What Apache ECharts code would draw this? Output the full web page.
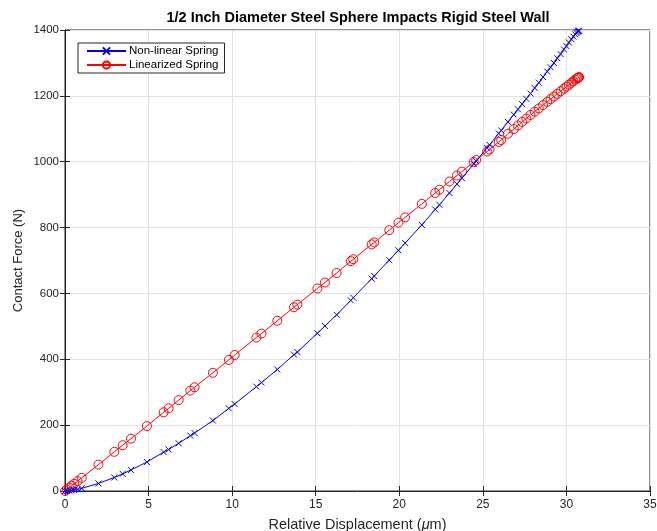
<!DOCTYPE html>
<html><head><meta charset="utf-8">
<script src="https://cdn.jsdelivr.net/npm/echarts@6/dist/echarts.min.js"></script>
<style>html,body{margin:0;padding:0;background:#fff}#c{width:657px;height:531px}</style>
</head><body><div id="c"></div>
<script>
const displacement = [0,0.1,0.25,0.4,0.55,0.75,1.0,2.0,2.95,3.45,3.95,4.9,5.9,6.2,6.8,7.5,7.75,8.85,9.8,10.15,11.45,11.75,12.7,13.7,13.9,15.1,15.55,16.25,17.1,17.25,18.35,18.5,19.4,19.95,20.35,21.35,22.15,22.4,23.0,23.45,23.75,24.45,24.6,25.25,25.4,25.95,26.1,26.5,26.85,27.1,27.35,27.6,27.85,28.1,28.35,28.6,28.85,29.05,29.25,29.45,29.65,29.85,30.0,30.15,30.3,30.42,30.52,30.6,30.66,30.7,30.73,30.76];
const nonlinearForce = [0,0,1,2,3,5,8,23,41,52,64,88,118,126,145,168,176,214,251,264,317,329,369,414,422,479,501,535,579,587,645,653,701,731,753,808,855,869,905,932,950,993,1002,1042,1051,1086,1095,1121,1143,1159,1175,1191,1207,1224,1240,1257,1274,1287,1300,1314,1327,1341,1351,1362,1372,1380,1387,1391,1394,1396,1397,1398];
const linearForce = [0,4,10,16,22,30,40,80,119,139,159,197,239,251,276,305,315,359,398,413,466,478,517,558,566,615,633,662,698,704,749,755,792,815,831,872,905,915,940,958,970,999,1005,1031,1037,1060,1066,1085,1099,1110,1121,1131,1142,1152,1162,1172,1182,1190,1198,1206,1214,1222,1228,1234,1240,1245,1249,1252,1254,1255,1256,1257];
const xTicks = [0,5,10,15,20,25,30,35];
const yTicks = [0,200,400,600,800,1000,1200,1400];

const pair = (xs, ys) => xs.map((x, i) => [x, ys[i]]);
const FONT = 'Liberation Sans, Arial, sans-serif';
const axisCol = '#262626';
const chart = echarts.init(document.getElementById('c'));
const baseX = {type:'value', min:0, max:35, interval:5};
const baseY = {type:'value', min:0, max:1400, interval:200};
chart.setOption({
  animation:false,
  title:{text:'1/2 Inch Diameter Steel Sphere Impacts Rigid Steel Wall', left:353, textAlign:'center', top:5,
    textStyle:{fontFamily:FONT, fontSize:14.5, fontWeight:'bold', color:'#000'}},
  grid:{left:65, right:7, top:30, bottom:40, show:true, borderColor:axisCol, borderWidth:1,
    containLabel:false, outerBoundsMode:'none'},
  legend:{left:78, top:43, orient:'vertical', itemGap:2, itemWidth:39, itemHeight:9,
    backgroundColor:'#fff', borderColor:axisCol, borderWidth:1, padding:[2,6,2,8],
    textStyle:{fontFamily:FONT, fontSize:11.5, color:'#000', padding:[0,0,0,-2]},
    data:['Non-linear Spring','Linearized Spring']},
  xAxis:[Object.assign({}, baseX, {
    name:'Relative Displacement ({it|μ}m)', nameLocation:'middle', nameGap:26,
    nameTextStyle:{fontFamily:FONT, fontSize:14.5, color:axisCol, rich:{it:{fontFamily:FONT, fontSize:14.5, fontStyle:'italic', color:axisCol}}},
    axisLine:{lineStyle:{color:axisCol}}, axisTick:{inside:true, length:5, lineStyle:{color:axisCol}},
    axisLabel:{fontFamily:FONT, fontSize:12, color:axisCol, margin:8, formatter:v=>xTicks.includes(v)?String(v):''},
    splitLine:{show:true, lineStyle:{color:'#e3e3e3'}}}),
    Object.assign({}, baseX, {position:'top', axisLine:{show:false}, axisLabel:{show:false},
    axisTick:{inside:true, length:5, lineStyle:{color:axisCol}}, splitLine:{show:false}})],
  yAxis:[Object.assign({}, baseY, {
    name:'Contact Force (N)', nameLocation:'middle', nameGap:40, nameMoveOverlap:false,
    nameTextStyle:{fontFamily:FONT, fontSize:13, color:axisCol},
    axisLine:{show:true, lineStyle:{color:axisCol}}, axisTick:{show:true, inside:true, length:5, lineStyle:{color:axisCol}},
    axisLabel:{fontFamily:FONT, fontSize:11.5, color:axisCol, margin:6, formatter:v=>yTicks.includes(v)?String(v):''},
    splitLine:{show:true, lineStyle:{color:'#e3e3e3'}}}),
    Object.assign({}, baseY, {position:'right', axisLine:{show:false}, axisLabel:{show:false},
    axisTick:{show:true, inside:true, length:5, lineStyle:{color:axisCol}}, splitLine:{show:false}})],
  series:[
    {name:'Non-linear Spring', type:'line', data:pair(displacement, nonlinearForce),
     symbol:'path://M0,0L10,10M10,0L0,10', symbolSize:6, showAllSymbol:true,
     lineStyle:{color:'#0000ff', width:1}, itemStyle:{color:'rgba(0,0,0,0)', borderColor:'#0000ff', borderWidth:1}, z:3},
    {name:'Linearized Spring', type:'line', data:pair(displacement, linearForce),
     symbol:'circle', symbolSize:9, showAllSymbol:true,
     lineStyle:{color:'#ff0000', width:1}, itemStyle:{color:'rgba(0,0,0,0)', borderColor:'#ff0000', borderWidth:1}, z:2}
  ]
});
</script></body></html>
